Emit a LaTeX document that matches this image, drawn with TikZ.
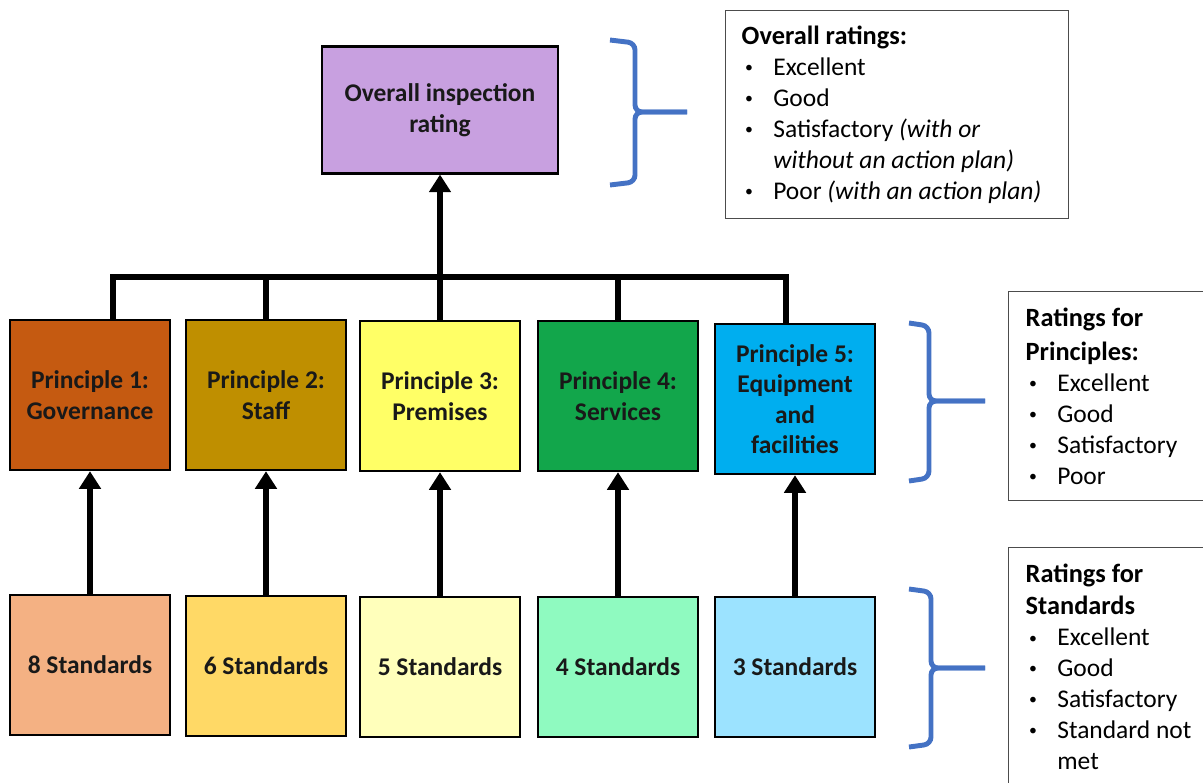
\documentclass[tikz,border=0pt]{standalone}
\usepackage{fontspec}
\setmainfont{Carlito}
\usetikzlibrary{arrows.meta}

\definecolor{topfill}{HTML}{C8A0E0}
\definecolor{govfill}{HTML}{C55A11}
\definecolor{stafffill}{HTML}{BF8F00}
\definecolor{premfill}{HTML}{FFFF66}
\definecolor{servfill}{HTML}{12A64B}
\definecolor{equipfill}{HTML}{00AEEF}
\definecolor{govlight}{HTML}{F4B183}
\definecolor{stafflight}{HTML}{FFD966}
\definecolor{premlight}{HTML}{FFFFBB}
\definecolor{servlight}{HTML}{8FFAC0}
\definecolor{equiplight}{HTML}{9CE3FF}
\definecolor{braceblue}{HTML}{4472C4}

\newcommand{\bul}{\makebox[18pt][l]{\hspace{2pt}\raisebox{1.6pt}{\fontsize{9}{9}\selectfont\textbullet}}}
\newcommand{\cont}{\hspace*{18pt}}

\begin{document}
\begin{tikzpicture}[
  x=0.02cm, y=-0.02cm,
  box/.style   ={rectangle, draw=black, line width=1.4pt, minimum width=3.2cm,
                 align=center, text=black!90, inner sep=2pt,
                 font=\bfseries\fontsize{14.5}{17.4}\selectfont},
  prin/.style  ={box, minimum height=3cm},
  stand/.style ={box, minimum height=2.8cm},
  key/.style   ={rectangle, draw=black!70, line width=0.8pt, anchor=north west,
                 align=flush left, inner ysep=0pt, font=\fontsize{14.5}{17.6}\selectfont},
  tree/.style  ={line width=3.8pt},
  arr/.style   ={line width=3.8pt, -{Triangle[length=10pt, width=12pt]}},
  brace/.style ={draw=braceblue, line width=2.8pt, rounded corners=0.14cm},
]
\clip (0,0) rectangle (1203,782);

% ---------------- overall rating ----------------
\node[box, fill=topfill, minimum width=4.72cm, minimum height=2.54cm, line width=1.2pt]
  (top) at (440,110) {Overall inspection\\rating};

% ---------------- principles ----------------
\node[prin, fill=govfill]   (p1) at (90,395)  {Principle 1:\\Governance};
\node[prin, fill=stafffill] (p2) at (266,395) {Principle 2:\\Staff};
\node[prin, fill=premfill]  (p3) at (440,396) {Principle 3:\\Premises};
\node[prin, fill=servfill]  (p4) at (618,396) {Principle 4:\\Services};
\node[prin, fill=equipfill] (p5) at (795,399) {Principle 5:\\Equipment\\and\\facilities};

% ---------------- standards ----------------
\node[stand, fill=govlight]   (s1) at (90,665)  {8 Standards};
\node[stand, fill=stafflight] (s2) at (266,666) {6 Standards};
\node[stand, fill=premlight]  (s3) at (440,667) {5 Standards};
\node[stand, fill=servlight]  (s4) at (618,667) {4 Standards};
\node[stand, fill=equiplight] (s5) at (795,667) {3 Standards};

% ---------------- tree and arrows ----------------
\coordinate (hub) at (440,277);
\coordinate (drop1) at ([xshift=0.46cm]p1.north);
\coordinate (drop5) at ([xshift=-0.18cm]p5.north);
\draw[tree] (drop1) |- (drop5 |- hub) -- (drop5);
\draw[tree] (p2.north) -- (p2.north |- hub);
\draw[tree] (p3.north) -- (hub);
\draw[tree] (p4.north) -- (p4.north |- hub);
\draw[arr] (hub) -- (top);

\draw[arr] (s1) -- (p1);
\draw[arr] (s2) -- (p2);
\draw[arr] (s3) -- (p3);
\draw[arr] (s4) -- (p4);
\draw[arr] (s5) -- (p5);

% ---------------- braces ----------------
\draw[brace] (610,40) -- (635,43) -- (635,112) -- (687,112);
\draw[brace] (610,185) -- (635,182) -- (635,112) -- (687,112);
\draw[brace] (909,323) -- (929,326) -- (929,401) -- (985,401);
\draw[brace] (909,481) -- (929,478) -- (929,401) -- (985,401);
\draw[brace] (909,589) -- (931,592) -- (931,668) -- (985,668);
\draw[brace] (909,747) -- (931,744) -- (931,668) -- (985,668);

% ---------------- rating keys ----------------
\node[key, minimum width=6.86cm, minimum height=4.16cm, inner xsep=0.32cm, text width=6.22cm]
  (overall) at (725,10)
  {{\bfseries\fontsize{15}{17.6}\selectfont Overall ratings:}\\
   \bul Excellent\\
   \bul Good\\
   \bul Satisfactory \textit{(with or}\\
   \cont\textit{without an action plan)}\\
   \bul Poor \textit{(with an action plan)}};

\node[key, minimum width=4.4cm, minimum height=4.18cm, inner xsep=0.34cm, text width=3.72cm]
  (forprin) at (1008,291)
  {{\bfseries\fontsize{15}{18.6}\selectfont Ratings for}\\[2pt]
   {\bfseries\fontsize{15}{19.6}\selectfont Principles:}\\
   \bul Excellent\\
   \bul Good\\
   \bul Satisfactory\\
   \bul Poor};

\node[key, minimum width=4.4cm, minimum height=4.76cm, inner xsep=0.34cm, text width=3.72cm]
  (forstand) at (1008,547)
  {{\bfseries\fontsize{15}{18.6}\selectfont Ratings for}\\[1pt]
   {\bfseries\fontsize{15}{18.6}\selectfont Standards}\\
   \bul Excellent\\
   \bul Good\\
   \bul Satisfactory\\
   \bul Standard not\\
   \cont met};

\end{tikzpicture}
\end{document}
